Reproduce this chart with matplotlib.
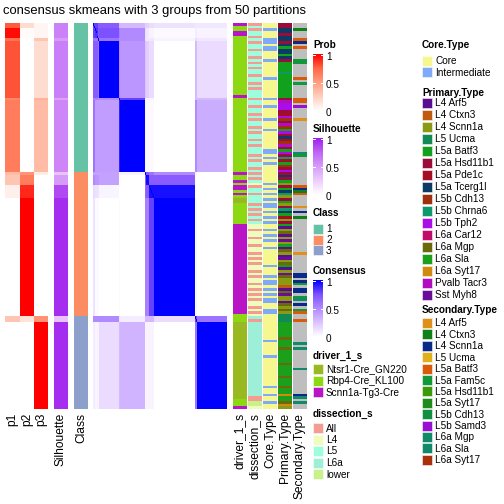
import numpy as np
import matplotlib
matplotlib.use('Agg')
import matplotlib.pyplot as plt
from matplotlib.colors import LinearSegmentedColormap, to_rgb
from matplotlib.patches import Rectangle

plt.rcParams['font.family'] = ['Liberation Sans', 'DejaVu Sans']

# ---- sample segments (rows, top to bottom) ----
seg_size = [2, 4, 1, 22, 1, 28, 1, 4, 5, 46, 2, 34]
seg_class = [1, 1, 1, 1, 1, 1, 2, 2, 2, 2, 3, 3]
seg_p1 = [0.78, 0.97, 0.70, 0.80, 0.60, 0.65, 0.35, 0.30, 0.08, 0.00, 0.30, 0.00]
seg_p2 = [0.18, 0.02, 0.00, 0.00, 0.00, 0.00, 0.55, 0.65, 0.90, 1.00, 0.15, 0.00]
seg_p3 = [0.05, 0.05, 0.30, 0.18, 0.40, 0.35, 0.10, 0.00, 0.00, 0.00, 0.55, 1.00]
seg_sil = [0.62, 0.62, 0.50, 0.63, 0.45, 0.60, 0.30, 0.50, 0.85, 0.95, 0.30, 0.95]

# consensus between segments
cons_blocks = [
    [0.80, 0.80, 0.70, 0.70, 0.30, 0.30, 0.20, 0.20, 0.15, 0.12, 0.10, 0.10],
    [0.80, 0.85, 0.70, 0.75, 0.55, 0.50, 0.15, 0.10, 0.05, 0.02, 0.08, 0.05],
    [0.60, 0.60, 0.60, 0.60, 0.50, 0.50, 0.10, 0.10, 0.10, 0.05, 0.15, 0.10],
    [0.70, 0.70, 0.60, 1.00, 0.50, 0.45, 0.25, 0.20, 0.15, 0.00, 0.30, 0.15],
    [0.55, 0.55, 0.50, 0.50, 0.80, 0.80, 0.10, 0.05, 0.05, 0.00, 0.30, 0.30],
    [0.60, 0.42, 0.42, 0.42, 0.90, 1.00, 0.03, 0.02, 0.02, 0.00, 0.50, 0.35],
    [0.40, 0.40, 0.40, 0.40, 0.05, 0.05, 0.85, 0.70, 0.60, 0.50, 0.05, 0.00],
    [0.50, 0.45, 0.45, 0.40, 0.00, 0.00, 0.70, 0.95, 0.70, 0.70, 0.00, 0.00],
    [0.15, 0.12, 0.12, 0.04, 0.00, 0.00, 0.65, 0.70, 0.95, 0.95, 0.00, 0.00],
    [0.12, 0.02, 0.02, 0.00, 0.02, 0.00, 0.55, 0.55, 0.80, 1.00, 0.02, 0.00],
    [0.50, 0.50, 0.50, 0.50, 0.10, 0.08, 0.30, 0.30, 0.30, 0.15, 0.80, 0.60],
    [0.08, 0.05, 0.05, 0.15, 0.30, 0.32, 0.05, 0.05, 0.05, 0.00, 0.60, 1.00],
]

# ---- annotations, one character per sample ----
driver_labels = ['Ntsr1-Cre_GN220', 'Rbp4-Cre_KL100', 'Scnn1a-Tg3-Cre']
driver_colors = ['#99b922', '#8cd812', '#b815c6']
driver_codes = 'NRS'
driver = ('SRRSSRRRRR RRRRRRRRRR RRRRRRRRSR RRRRRRRRRR RRRRRRRRRR RRRRRRRRSR '
          'RSRSSRSRNN RRRRRRRRSS SSSSSSSSSS SSSSSSSSSS SSSSSSSSSS SSSRRRNNNN '
          'NNNNNNNNNN NNNNNNNNNN NNNNNNRRRS')

dissection_labels = ['All', 'L4', 'L5', 'L6a', 'lower']
dissection_colors = ['#f49c92', '#eefcbc', '#9cfedc', '#9eefd8', '#c9f18a']
dissection_codes = 'A456w'
dissection = ('A5A55A5A55 A55A5A5A55 A55A5A555A 55A55A5A55 A5A55A5A55 5A5A55A5A5 '
              'A54A55A555 A5A5A5A544 A44A44A44A 4A4A44A4A4 4A4A4A4A44 A4A46A6666 '
              '6666666666 6666666666 66666AAww4')

core_labels = ['Core', 'Intermediate']
core_colors = ['#f7f78f', '#7faaf8']
core_codes = 'CI'
core = ('CCICCCIICI ICCCICCCCC CICCCCCCCI CCICCCCICC CICCCCCCCI ICICICCCCC '
        'CCICICICIC IICICICICC ICICICCICC CCCCICCCIC IICICICIIC CIICCCCCCC '
        'CCCICCCCCI CCCCCCCCCC CICCICCICC')

primary_labels = ['L4 Arf5', 'L4 Ctxn3', 'L4 Scnn1a', 'L5 Ucma', 'L5a Batf3',
                  'L5a Hsd11b1', 'L5a Pde1c', 'L5a Tcerg1l', 'L5b Cdh13',
                  'L5b Chrna6', 'L5b Tph2', 'L6a Car12', 'L6a Mgp', 'L6a Sla',
                  'L6a Syt17', 'Pvalb Tacr3', 'Sst Myh8']
primary_colors = ['#5b0d92', '#c05a10', '#8a9a12', '#118a55', '#11a11c',
                  '#9a0d3a', '#a50d25', '#0d3b66', '#a0300d', '#0d9a6a',
                  '#aa0de8', '#c00d6a', '#6a6a0d', '#1aa01a', '#d08a0d',
                  '#b00dc0', '#6a0d9a']
primary_codes = 'abcdefghijklmnopq'
primary = ('ffhhfhhfhe hhehfeeeej eeeeeeeeef pkkkfgkifp iekfhgipfe kfjgeifkfh '
           'fecfehjcfe cfjhegcfea cmacqceamc aqcmeacqmc ccbamqccam cmcdddnnnn '
           'nnmnnnmnnn nnmnnnnmnn nmnnonnmoc')

secondary_labels = ['L4 Arf5', 'L4 Ctxn3', 'L4 Scnn1a', 'L5 Ucma', 'L5a Batf3',
                    'L5a Fam5c', 'L5a Hsd11b1', 'L5a Syt17', 'L5b Cdh13',
                    'L5b Samd3', 'L6a Mgp', 'L6a Sla', 'L6a Syt17']
secondary_colors = ['#e0901a', '#10801a', '#0a2a8a', '#e0b01a', '#d85a0a',
                    '#10983a', '#3a9a0a', '#208a1a', '#109040', '#9a10d0',
                    '#108a6a', '#10886a', '#a8300a']
secondary_codes = 'ABCDEFGHIJKLM'
secondary = ('..B...EC.E ....FF.... .E.F.....E E.J....A.. .......... KF........ '
             '...ECBE... .A.C.B.... .........A .......CC. CF.CC.FK.C .FE..E.... '
             '....K.K... ....K..... ....CK.K..')

class_colors = ['#66c2a5', '#fc8d62', '#8da0cb']

prob_cmap = LinearSegmentedColormap.from_list('prob', ['#ffffff', '#ffcfbf', '#ff9e81', '#ff6846', '#ff0000'])
sil_cmap = LinearSegmentedColormap.from_list('sil', ['#ffffff', '#edcdfd', '#d79bfa', '#be66f5', '#a020f0'])
cons_cmap = LinearSegmentedColormap.from_list('cons', ['#ffffff', '#dcc4ff', '#b38bff', '#7e52ff', '#0000ff'])

# ---- expand to samples ----
p1 = np.repeat(seg_p1, seg_size)
p2 = np.repeat(seg_p2, seg_size)
p3 = np.repeat(seg_p3, seg_size)
sil = np.repeat(seg_sil, seg_size)
cls = np.repeat(seg_class, seg_size)
cons = np.repeat(np.repeat(np.array(cons_blocks), seg_size, axis=0), seg_size, axis=1)
np.fill_diagonal(cons, 1.0)


def to_rgb_col(codes, code_list, colors, na='#bebebe'):
    codes = codes.replace(' ', '')
    rgb = []
    for ch in codes:
        if ch in code_list:
            rgb.append(to_rgb(colors[code_list.index(ch)]))
        else:
            rgb.append(to_rgb(na))
    return np.array(rgb).reshape(-1, 1, 3)


fig = plt.figure(figsize=(7, 7), dpi=72)
ax = fig.add_axes([0, 0, 1, 1])

top, bottom = 23, 409


def column(img, x0, x1, **kw):
    ax.imshow(img, extent=(x0, x1, bottom, top), aspect='auto',
              interpolation='nearest', **kw)


column(p1.reshape(-1, 1), 5, 20, cmap=prob_cmap, vmin=0, vmax=1)
column(p2.reshape(-1, 1), 20, 34, cmap=prob_cmap, vmin=0, vmax=1)
column(p3.reshape(-1, 1), 34, 48, cmap=prob_cmap, vmin=0, vmax=1)
column(sil.reshape(-1, 1), 54, 68, cmap=sil_cmap, vmin=0, vmax=1)
column(np.array([to_rgb(class_colors[c - 1]) for c in cls]).reshape(-1, 1, 3), 74, 88)
column(cons, 93, 227, cmap=cons_cmap, vmin=0, vmax=1)
column(to_rgb_col(driver, driver_codes, driver_colors), 233, 247)
column(to_rgb_col(dissection, dissection_codes, dissection_colors), 248, 262)
column(to_rgb_col(core, core_codes, core_colors), 263, 277)
column(to_rgb_col(primary, primary_codes, primary_colors), 278, 292)
column(to_rgb_col(secondary, secondary_codes, secondary_colors), 293, 307)

# column names under the heatmap
col_names = [('p1', 12.5), ('p2', 27), ('p3', 41), ('Silhouette', 61), ('Class', 81),
             ('driver_1_s', 240), ('dissection_s', 255), ('Core.Type', 270),
             ('Primary.Type', 285), ('Secondary.Type', 300)]
for name, xc in col_names:
    ax.text(xc, 413, name, rotation=90, ha='center', va='top', fontsize=12)

ax.text(3, 11, 'consensus skmeans with 3 groups from 50 partitions',
        fontsize=13, va='center', ha='left')


# ---- legends ----
def grad_legend(x, y, title, cmap):
    ax.text(x, y, title, fontsize=10, fontweight='bold', va='center')
    grad = np.linspace(1, 0, 100).reshape(-1, 1)
    ax.imshow(grad, cmap=cmap, extent=(x, x + 10, y + 66, y + 9), aspect='auto', vmin=0, vmax=1)
    for v, lab in [(1, '1'), (0.5, '0.5'), (0, '0')]:
        yy = y + 66 - 56 * v
        if v > 0:
            ax.plot([x, x + 2], [yy, yy], color='white', lw=1)
            ax.plot([x + 8, x + 10], [yy, yy], color='white', lw=1)
        ax.text(x + 13, yy + 1.5, lab, fontsize=10, va='center')


def cat_legend(x, y, y0, step, title, labels, colors):
    ax.text(x, y, title, fontsize=10, fontweight='bold', va='center')
    for i, (lab, col) in enumerate(zip(labels, colors)):
        yc = y0 + step * i
        ax.add_patch(Rectangle((x, yc - 5), 10, 10, facecolor=col, edgecolor='white', lw=0.5))
        ax.text(x + 13, yc + 0.5, lab, fontsize=10, va='center')


grad_legend(313, 45, 'Prob', prob_cmap)
grad_legend(313, 129, 'Silhouette', sil_cmap)
cat_legend(313, 213, 229, 10.7, 'Class', ['1', '2', '3'], class_colors)
grad_legend(313, 271, 'Consensus', cons_cmap)
cat_legend(313, 356, 369, 11.5, 'driver_1_s', driver_labels, driver_colors)
cat_legend(313, 414, 428, 11.5, 'dissection_s', dissection_labels, dissection_colors)

cat_legend(422, 45, 61, 11, 'Core.Type', core_labels, core_colors)
cat_legend(422, 93, 103, 12.0, 'Primary.Type', primary_labels, primary_colors)
cat_legend(422, 310, 323, 11.4, 'Secondary.Type', secondary_labels, secondary_colors)

ax.set_xlim(0, 504)
ax.set_ylim(504, 0)
ax.axis('off')

fig.savefig('out.png', dpi=72)
